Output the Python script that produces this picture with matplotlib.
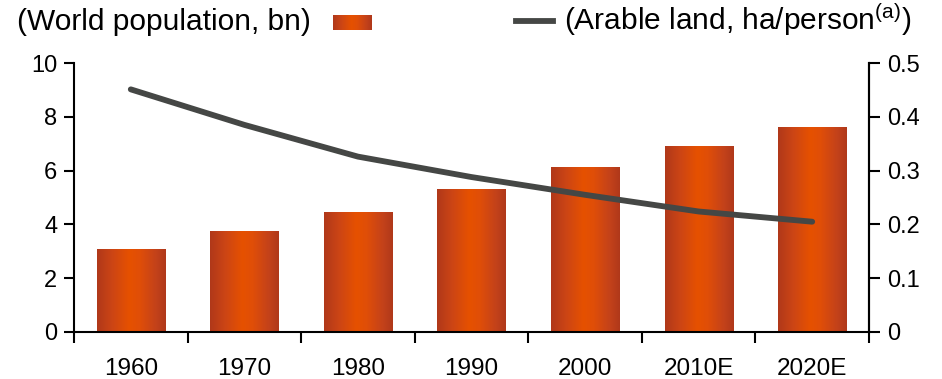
import numpy as np
import matplotlib
matplotlib.use("Agg")
import matplotlib.pyplot as plt
from matplotlib.colors import LinearSegmentedColormap
from matplotlib.lines import Line2D

plt.rcParams['font.family'] = ['Liberation Sans', 'DejaVu Sans']
plt.rcParams['mathtext.default'] = 'regular'

years = ["1960", "1970", "1980", "1990", "2000", "2010E", "2020E"]
population_bn = [3.05, 3.72, 4.46, 5.28, 6.13, 6.88, 7.62]
arable_ha_per_person = [0.451, 0.385, 0.326, 0.288, 0.255, 0.224, 0.205]

bar_cmap = LinearSegmentedColormap.from_list(
    "bar_shade",
    [(0.0, "#B0381A"), (0.22, "#CC4515"), (0.47, "#E65100"),
     (0.62, "#E04E08"), (0.85, "#C4421A"), (1.0, "#B0381A")])
gradient = np.linspace(0, 1, 256).reshape(1, -1)

W, H = 942, 379
fig = plt.figure(figsize=(W / 100, H / 100), dpi=100)
ax = fig.add_axes([74 / W, 1 - 332 / H, (869 - 74) / W, (332 - 63) / H])

x = np.arange(len(years))
bar_w = 0.6
ax.set_xlim(-0.5, len(years) - 0.5)
ax.set_ylim(0, 10)
for xi, v in zip(x, population_bn):
    ax.imshow(gradient, cmap=bar_cmap, aspect='auto',
              extent=[xi - bar_w / 2, xi + bar_w / 2, 0, v], zorder=2)
ax.set_xlim(-0.5, len(years) - 0.5)
ax.set_ylim(0, 10)

ax.spines['top'].set_visible(False)
for s in ('left', 'bottom', 'right'):
    ax.spines[s].set_linewidth(1.5)
ax.set_yticks(np.arange(0, 11, 2))
ax.set_xticks(x)
ax.set_xticklabels(years)
ax.set_xticks(np.arange(-0.5, len(years), 1), minor=True)
ax.tick_params(axis='x', which='major', length=0, labelsize=17.5, pad=19)
ax.tick_params(axis='x', which='minor', length=8, width=1.5, direction='out')
ax.tick_params(axis='y', length=7, width=1.5, direction='out', labelsize=17, pad=5)

ax2 = ax.twinx()
ax2.set_ylim(0, 0.5)
ax2.set_yticks([0, 0.1, 0.2, 0.3, 0.4, 0.5])
ax2.set_yticklabels(["0", "0.1", "0.2", "0.3", "0.4", "0.5"])
ax2.tick_params(axis='y', length=8, width=1.5, direction='out', labelsize=17, pad=5)
ax2.spines['top'].set_visible(False)
ax2.spines['left'].set_visible(False)
ax2.spines['bottom'].set_visible(False)
ax2.spines['right'].set_linewidth(1.5)
ax2.plot(x, arable_ha_per_person, color="#454745", lw=4.2,
         solid_capstyle='round', solid_joinstyle='round', zorder=3)

# header legend
fig.text(17 / W, 1 - 30 / H, "(World population, bn)", fontsize=21.5,
         va='baseline', ha='left')
sw = fig.add_axes([333 / W, 1 - 30 / H, 39 / W, 15 / H])
sw.imshow(gradient, cmap=bar_cmap, aspect='auto')
sw.axis('off')
fig.add_artist(Line2D([516 / W, 553 / W], [1 - 21 / H, 1 - 21 / H],
                      transform=fig.transFigure, color="#454745", lw=4.2))
fig.text(564 / W, 1 - 30 / H, r"(Arable land, ha/person$^{(a)}$)",
         fontsize=21.5, va='baseline', ha='left')

fig.savefig("out.png", dpi=100)
